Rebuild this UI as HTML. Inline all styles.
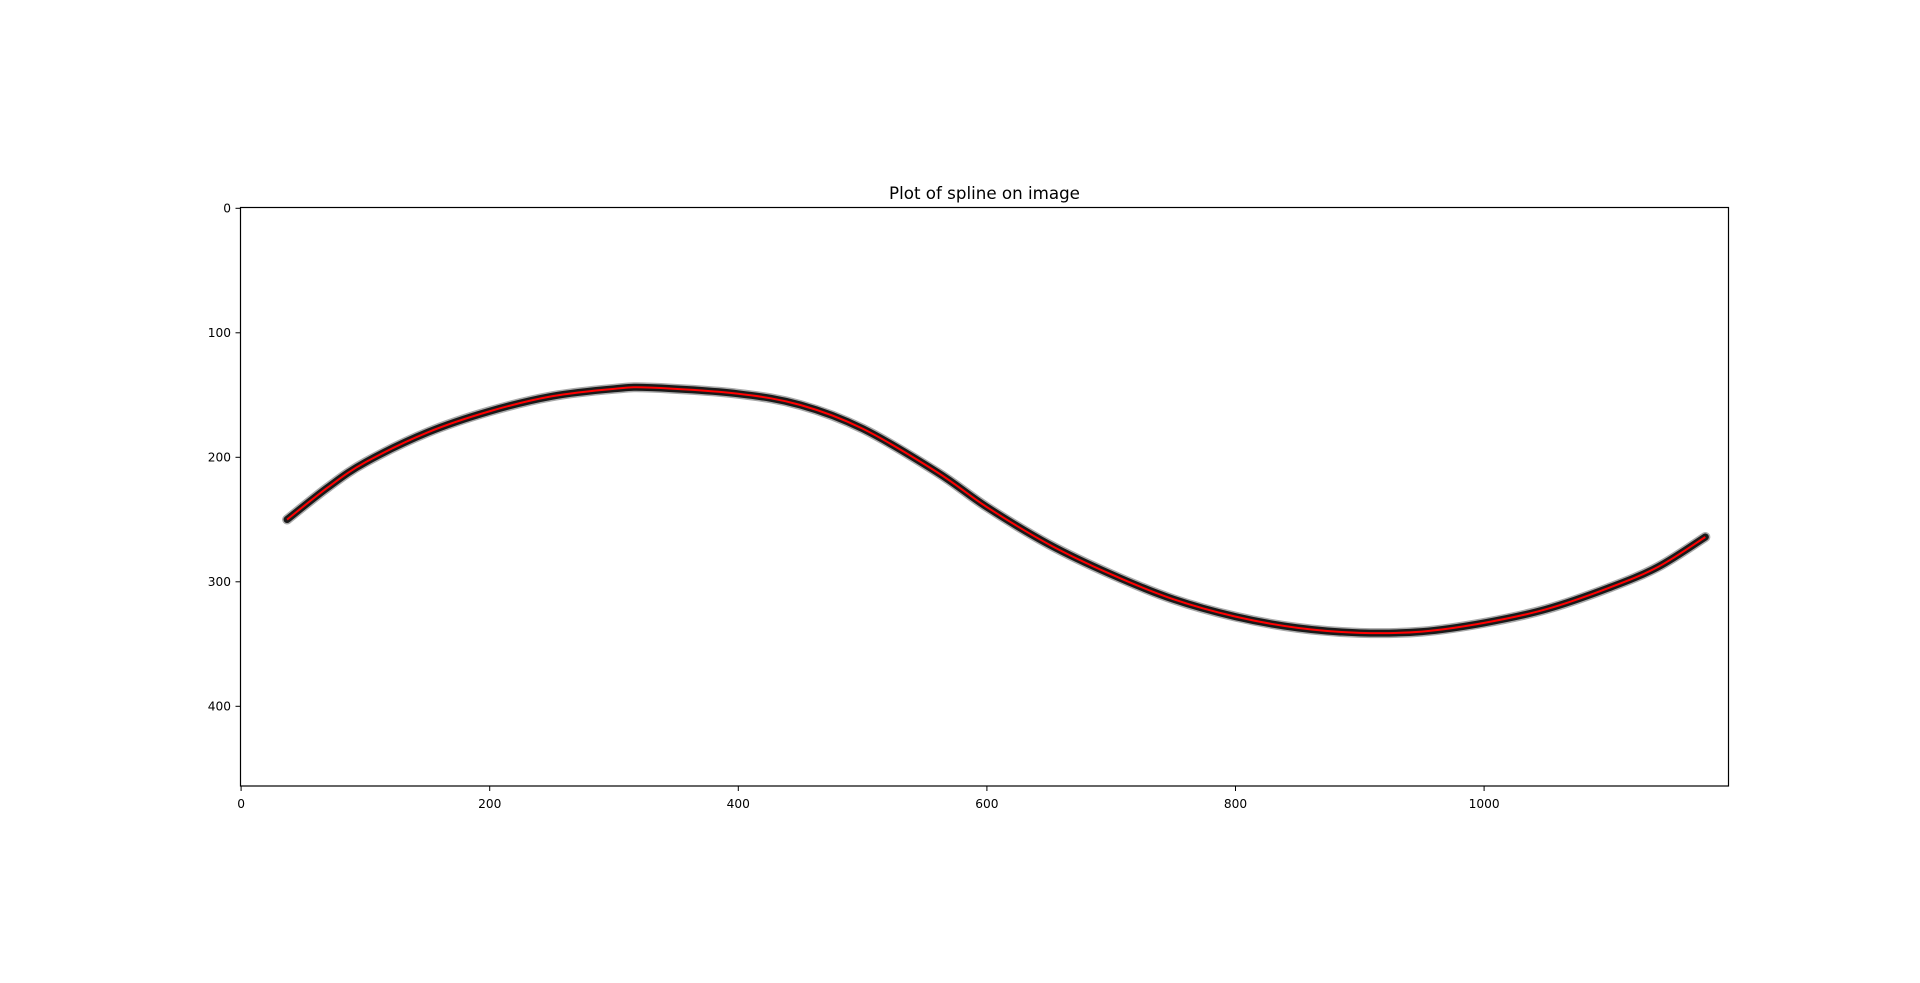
<!DOCTYPE html>
<html><head><meta charset="utf-8"><style>
html,body{margin:0;padding:0;background:#fff;}
svg{display:block;font-family:"DejaVu Sans","Liberation Sans",sans-serif;}
</style></head><body>
<svg id="chart" width="1920" height="983" viewBox="0 0 1920 983" xmlns="http://www.w3.org/2000/svg">
<rect width="1920" height="983" fill="#fff"/>
<text x="984.5" y="199" text-anchor="middle" font-size="16.7">Plot of spline on image</text>
<g id="marks"></g>
<rect x="240.5" y="207.5" width="1488" height="578.5" fill="none" stroke="#000" stroke-width="1.2"/>
<g id="axes"></g>
</svg>
<script>
const xTicks = [0, 200, 400, 600, 800, 1000];
const yTicks = [0, 100, 200, 300, 400];
const curveX = [37, 70, 100, 150, 200, 250, 300, 330, 400, 450, 500, 560, 600, 650, 700, 750, 800, 850, 900, 950, 1000, 1050, 1100, 1140, 1178];
const curveY = [250, 224, 204, 180, 163, 151, 145, 144, 149, 158, 177, 212, 240, 270, 294, 314, 328, 337, 341, 340, 333, 322, 305, 288, 264];

const X0 = 241.1, SX = 1.243, Y0 = 208.3, SY = 1.245;
function xs(v){ return X0 + v*SX; }
function ys(v){ return Y0 + v*SY; }
const NS = "http://www.w3.org/2000/svg";
const axes = document.getElementById('axes');
const marks = document.getElementById('marks');

function pathD(){
  const p = curveX.map((x,i)=>[xs(x), ys(curveY[i])]);
  let d = `M${p[0][0]},${p[0][1]}`;
  for(let i=0;i<p.length-1;i++){
    const p0=p[Math.max(0,i-1)], p1=p[i], p2=p[i+1], p3=p[Math.min(p.length-1,i+2)];
    const c1=[p1[0]+(p2[0]-p0[0])/6, p1[1]+(p2[1]-p0[1])/6];
    const c2=[p2[0]-(p3[0]-p1[0])/6, p2[1]-(p3[1]-p1[1])/6];
    d += ` C${c1[0]},${c1[1]} ${c2[0]},${c2[1]} ${p2[0]},${p2[1]}`;
  }
  return d;
}
const d = pathD();
const halo = document.createElementNS(NS,'path');


halo.setAttribute('d', d); halo.setAttribute('fill','none'); halo.setAttribute('stroke','#aaa');
halo.setAttribute('stroke-width','10'); halo.setAttribute('stroke-linecap','round');
marks.appendChild(halo);
const dark = document.createElementNS(NS,'path');


dark.setAttribute('d', d); dark.setAttribute('fill','none'); dark.setAttribute('stroke','#1a1a1a');
dark.setAttribute('stroke-width','7'); dark.setAttribute('stroke-linecap','round');
marks.appendChild(dark);
const red = document.createElementNS(NS,'path');


red.setAttribute('d', d); red.setAttribute('fill','none'); red.setAttribute('stroke','#ff0000');
red.setAttribute('stroke-width','2');
marks.appendChild(red);

xTicks.forEach(t=>{
  const x = xs(t);
  const l = document.createElementNS(NS,'line');
  
  
  l.setAttribute('x1',x); l.setAttribute('x2',x); l.setAttribute('y1',786); l.setAttribute('y2',791);
  l.setAttribute('stroke','#000'); l.setAttribute('stroke-width','1');
  axes.appendChild(l);
  const tx = document.createElementNS(NS,'text');
  
  
  tx.setAttribute('x',x); tx.setAttribute('y',808); tx.setAttribute('text-anchor','middle'); tx.setAttribute('font-size','12.2');
  tx.textContent = t;
  axes.appendChild(tx);
});
yTicks.forEach(t=>{
  const y = ys(t);
  const l = document.createElementNS(NS,'line');
  
  
  l.setAttribute('x1',235.5); l.setAttribute('x2',240.5); l.setAttribute('y1',y); l.setAttribute('y2',y);
  l.setAttribute('stroke','#000'); l.setAttribute('stroke-width','1');
  axes.appendChild(l);
  const tx = document.createElementNS(NS,'text');
  
  
  tx.setAttribute('x',231); tx.setAttribute('y',y+4.4); tx.setAttribute('text-anchor','end'); tx.setAttribute('font-size','12.2');
  tx.textContent = t;
  axes.appendChild(tx);
});
</script>
</body></html>
